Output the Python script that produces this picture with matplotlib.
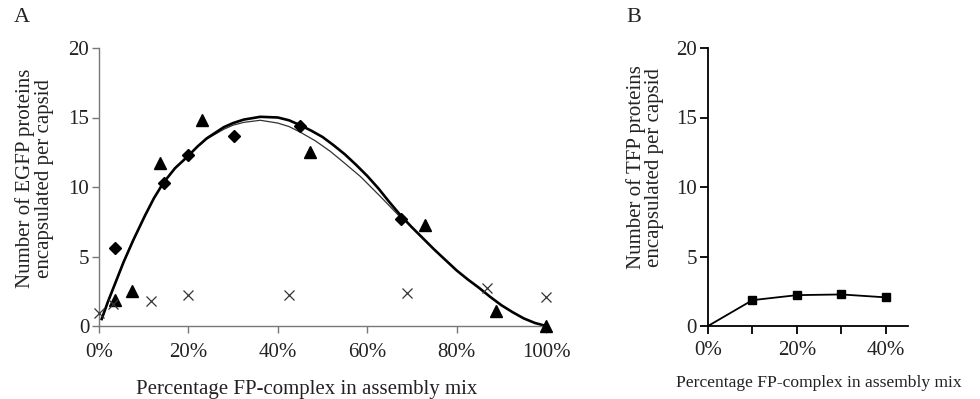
import matplotlib
matplotlib.use("Agg")
import matplotlib.pyplot as plt
from matplotlib.ticker import FuncFormatter, MultipleLocator

plt.rcParams['font.family'] = ['Liberation Serif', 'DejaVu Serif']

# ---- Panel A data (EGFP) ----
diamond_x = [3.6, 14.6, 20.0, 30.3, 45.0, 67.5]
diamond_y = [5.6, 10.3, 12.3, 13.7, 14.4, 7.7]

triangle_x = [3.6, 7.3, 13.7, 23.0, 47.2, 72.9, 88.9, 100.0]
triangle_y = [1.9, 2.5, 11.7, 14.8, 12.5, 7.3, 1.1, 0.0]

cross_x = [0.0, 3.2, 11.7, 19.8, 42.6, 69.0, 86.9, 100.0]
cross_y = [0.9, 1.6, 1.8, 2.2, 2.2, 2.4, 2.75, 2.1]

# trendlines
thick_x = [0.6, 2.0, 3.6, 5.5, 7.7, 10.3, 12.3, 14.4, 17.0, 20.0, 22.0, 24.1, 27.9, 30.0,
           32.4, 36.1, 40.0, 42.5, 45.0, 47.5, 50.0, 52.5, 55.0, 57.5, 60.0, 62.5, 65.0,
           67.5, 70.0, 72.5, 75.0, 77.5, 80.0, 82.5, 85.0, 87.5, 90.0, 92.5, 95.0, 97.5, 100.0]
thick_y = [0.5, 1.75, 3.05, 4.6, 6.2, 7.95, 9.2, 10.3, 11.35, 12.25, 12.9, 13.5, 14.3, 14.6,
           14.85, 15.05, 15.0, 14.8, 14.45, 14.05, 13.6, 13.0, 12.35, 11.6, 10.8, 9.9, 8.9,
           7.95, 7.1, 6.3, 5.5, 4.75, 4.0, 3.35, 2.75, 2.1, 1.5, 1.0, 0.55, 0.22, 0.0]

thin_x = [0.6, 2.0, 3.6, 5.5, 7.7, 10.3, 12.3, 14.4, 17.0, 20.0, 22.0, 24.1, 27.9, 30.0,
          32.4, 36.1, 40.0, 42.5, 45.0, 48.5, 51.8, 55.0, 58.5, 63.0, 67.5]
thin_y = [0.5, 1.75, 3.05, 4.6, 6.2, 7.95, 9.2, 10.3, 11.35, 12.25, 12.9, 13.45, 14.15, 14.45,
          14.65, 14.8, 14.6, 14.35, 13.95, 13.3, 12.55, 11.7, 10.75, 9.3, 7.8]

# ---- Panel B data (TFP) ----
tfp_x = [0, 10, 20, 30, 40]
tfp_y = [0.0, 1.86, 2.22, 2.27, 2.06]

FS = 15
TXT = '#222222'
pct = FuncFormatter(lambda v, p: f"{v:.0f}%")

fig = plt.figure(figsize=(9.8, 3.99), dpi=100)

# Panel A
axA = fig.add_axes([99/980, 73/399, 447/980, 278/399])
axA.plot(thin_x, thin_y, color='#333333', lw=0.9, zorder=2, solid_joinstyle='round')
axA.plot(thick_x, thick_y, color='black', lw=1.9, zorder=2, solid_joinstyle='round')
axA.plot(diamond_x, diamond_y, ls='none', marker='D', ms=6, color='black', zorder=3)
axA.plot(triangle_x, triangle_y, ls='none', marker='^', ms=8, color='black', zorder=3)
axA.plot(cross_x, cross_y, ls='none', marker='x', ms=7, mew=0.9, color='#333333', zorder=3)
axA.set_xlim(0, 100)
axA.set_ylim(0, 20)
axA.xaxis.set_major_locator(MultipleLocator(20))
axA.yaxis.set_major_locator(MultipleLocator(5))
axA.xaxis.set_major_formatter(pct)
for s in ['top', 'right']:
    axA.spines[s].set_visible(False)
for s in ['left', 'bottom']:
    axA.spines[s].set_color('#777777')
    axA.spines[s].set_linewidth(1.0)
axA.tick_params(axis='both', direction='out', length=5, width=1.0, color='#777777',
                labelsize=FS, labelcolor=TXT)
axA.tick_params(axis='x', pad=7.5)
axA.tick_params(axis='y', pad=2)
axA.set_xlabel("Percentage FP-complex in assembly mix", fontsize=FS, color=TXT)
axA.xaxis.set_label_coords(0.465, -0.195)
axA.set_ylabel("Number of EGFP proteins\nencapsulated per capsid", fontsize=FS,
               color=TXT, linespacing=1.05)
axA.yaxis.set_label_coords(-0.1, 0.53)
for m in axA.lines:
    m.set_clip_on(False)

# Panel B
axB = fig.add_axes([708/980, 73/399, 200/980, 278/399])
axB.plot(tfp_x, tfp_y, color='black', lw=1.3, marker='s', ms=5.5, markevery=[1, 2, 3, 4], zorder=3)
axB.set_xlim(0, 45)
axB.set_ylim(0, 20)
axB.set_xticks([0, 10, 20, 30, 40])
axB.set_xticklabels(['0%', '', '20%', '', '40%'])
axB.yaxis.set_major_locator(MultipleLocator(5))
for s in ['top', 'right']:
    axB.spines[s].set_visible(False)
for s in ['left', 'bottom']:
    axB.spines[s].set_color('black')
    axB.spines[s].set_linewidth(1.3)
axB.tick_params(axis='both', direction='out', length=6, width=1.3, color='black',
                labelsize=FS, labelcolor=TXT)
axB.tick_params(axis='x', pad=5)
axB.tick_params(axis='y', pad=2)
axB.set_xlabel("Percentage FP-complex in assembly mix", fontsize=12.6, color=TXT)
axB.xaxis.set_label_coords(0.555, -0.175)
axB.set_ylabel("Number of TFP proteins\nencapsulated per capsid", fontsize=FS,
               color=TXT, linespacing=0.95)
axB.yaxis.set_label_coords(-0.22, 0.57)

fig.text(14/980, 1 - 18/399, "A", fontsize=16, va='center', ha='left', color=TXT)
fig.text(626/980, 1 - 18/399, "B", fontsize=16, va='center', ha='left', color=TXT)

fig.savefig("out.png", dpi=100)
